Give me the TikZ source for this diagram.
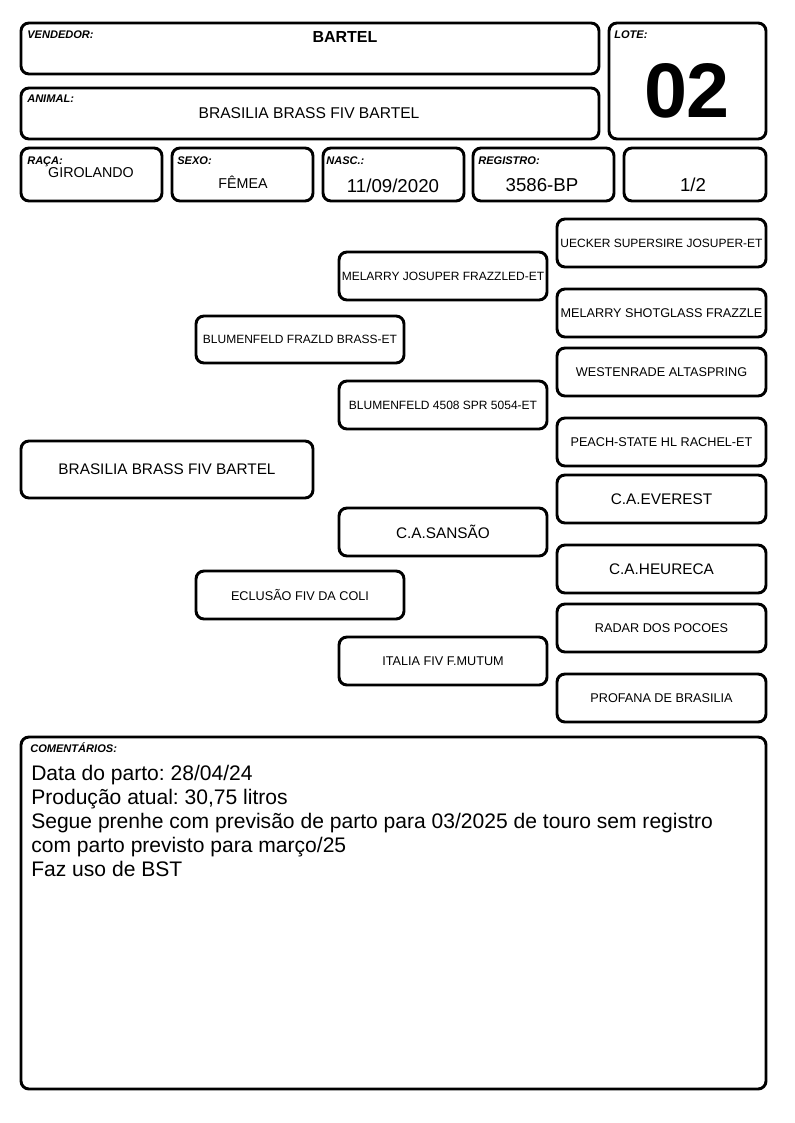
\documentclass[tikz,border=0pt]{standalone}
\usepackage{fontspec}
\setmainfont{Liberation Sans}
\frenchspacing

\begin{document}
\begin{tikzpicture}[x=0.75pt,y=-0.75pt,
  box/.style={draw,line width=2.2pt,rounded corners=6pt},
  tag/.style={anchor=base west,inner sep=0pt,font=\fontsize{8.3}{9}\selectfont\bfseries\itshape},
  val/.style={anchor=base,inner sep=0pt,font=\fontsize{14}{16}\selectfont},
  gen1/.style={font=\fontsize{11.5}{13}\selectfont},
  gen2/.style={font=\fontsize{9.5}{11}\selectfont},
  gen3/.style={font=\fontsize{9}{11}\selectfont}]
%\draw[gray!35] (0,0) grid[step=50] (794,1123);
\useasboundingbox (0,0) rectangle (794,1123);

% header
\draw[box] (21,23) rectangle (599,74);
\node[tag] (vendtag) at (27,39) {VENDEDOR:};
\node[val,font=\fontsize{12}{14}\selectfont\bfseries] (vend) at (345,43) {BARTEL};

\draw[box] (609,23) rectangle (766,139);
\node[tag] (lotetag) at (614,39) {LOTE:};
\node[val,font=\fontsize{58}{60}\selectfont\bfseries] (lote) at (687,118) {02};

\draw[box] (21,88) rectangle (599,139);
\node[tag] (animaltag) at (27,103) {ANIMAL:};
\node[val,font=\fontsize{11.7}{14}\selectfont] (animal) at (309,119) {BRASILIA BRASS FIV BARTEL};

\draw[box] (21,148) rectangle (162,201);
\node[tag] (racatag) at (27,165) {RAÇA:};
\node[val,font=\fontsize{10.7}{12}\selectfont] (raca) at (91,178) {GIROLANDO};

\draw[box] (172,148) rectangle (313,201);
\node[tag] (sexotag) at (177,165) {SEXO:};
\node[val,font=\fontsize{10.7}{12}\selectfont] (sexo) at (243,189) {FÊMEA};

\draw[box] (323,148) rectangle (464,201);
\node[tag] (nasctag) at (326,165) {NASC.:};
\node[val] (nasc) at (393,193) {11/09/2020};

\draw[box] (473,148) rectangle (614,201);
\node[tag] (regtag) at (478,165) {REGISTRO:};
\node[val] (reg) at (542,192) {3586-BP};

\draw[box] (624,148) rectangle (766,201);
\node[val] (part) at (693,192) {1/2};

% pedigree
\draw[box] (21,441) rectangle (313,498) node[midway,gen1] (animalped) {BRASILIA BRASS FIV BARTEL};

\draw[box] (196,316) rectangle (404,363) node[midway,gen3] (sire) {BLUMENFELD FRAZLD BRASS-ET};
\draw[box] (196,571) rectangle (404,619) node[midway,gen2] (dam) {ECLUSÃO FIV DA COLI};

\draw[box] (339,252) rectangle (547,300) node[midway,gen3] (ss) {MELARRY JOSUPER FRAZZLED-ET};
\draw[box] (339,381) rectangle (547,429) node[midway,gen3] (sd) {BLUMENFELD 4508 SPR 5054-ET};
\draw[box] (339,508) rectangle (547,556) node[midway,gen1] (ds) {C.A.SANSÃO};
\draw[box] (339,637) rectangle (547,685) node[midway,gen2] (dd) {ITALIA FIV F.MUTUM};

\draw[box] (557,219) rectangle (766,267) node[midway,gen3] (sss) {UECKER SUPERSIRE JOSUPER-ET};
\draw[box] (557,289) rectangle (766,337) node[midway,gen2] (ssd) {MELARRY SHOTGLASS FRAZZLE};
\draw[box] (557,348) rectangle (766,396) node[midway,gen2] (sds) {WESTENRADE ALTASPRING};
\draw[box] (557,418) rectangle (766,466) node[midway,gen2] (sdd) {PEACH-STATE HL RACHEL-ET};
\draw[box] (557,475) rectangle (766,523) node[midway,gen1] (dss) {C.A.EVEREST};
\draw[box] (557,545) rectangle (766,593) node[midway,gen1] (dsd) {C.A.HEURECA};
\draw[box] (557,604) rectangle (766,652) node[midway,gen2] (dds) {RADAR DOS POCOES};
\draw[box] (557,674) rectangle (766,722) node[midway,gen2] (ddd) {PROFANA DE BRASILIA};

% comments
\draw[box] (21,737) rectangle (766,1089);
\node[tag] (comtag) at (30,752) {COMENTÁRIOS:};
\node[anchor=north west,inner sep=0pt,align=left,font=\fontsize{15.8}{18}\selectfont] (com) at (31,765)
{Data do parto: 28/04/24\\
Produção atual: 30,75 litros\\
Segue prenhe com previsão de parto para 03/2025 de touro sem registro\\
com parto previsto para março/25\\
Faz uso de BST};

\end{tikzpicture}
\end{document}
